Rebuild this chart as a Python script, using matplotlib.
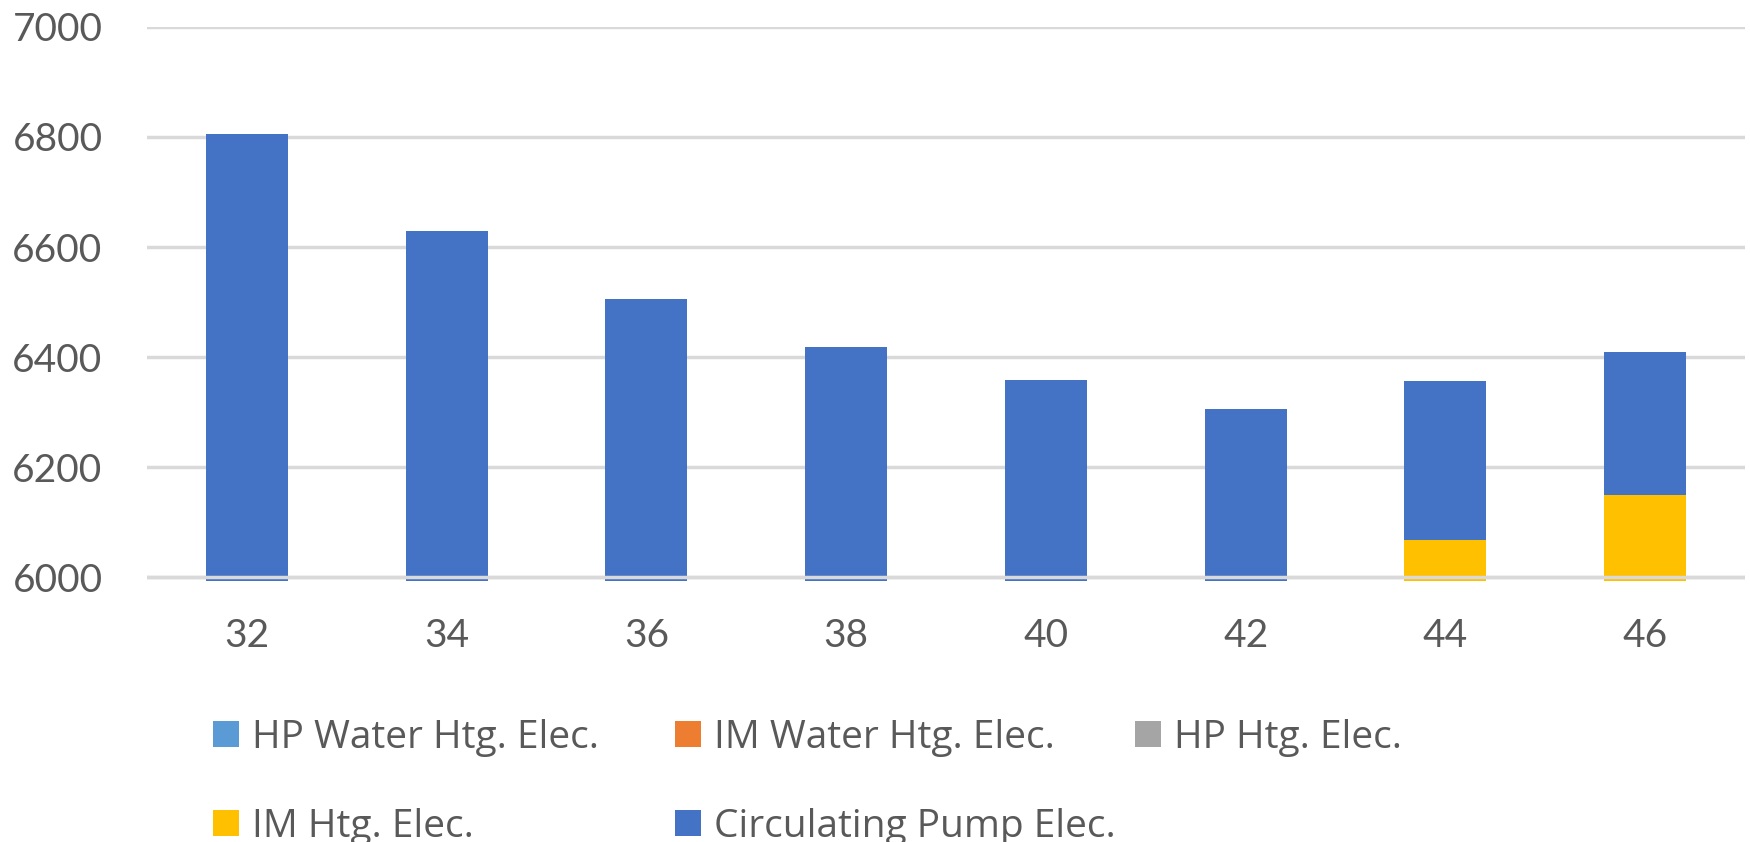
import matplotlib
matplotlib.use("Agg")
import matplotlib.pyplot as plt
import numpy as np

plt.rcParams['font.family'] = ['Lato', 'DejaVu Sans']

# temperatures along the x axis
temps = ["32", "34", "36", "38", "40", "42", "44", "46"]

# stacked electricity components
hp_water = [0, 0, 0, 0, 0, 0, 0, 0]
im_water = [0, 0, 0, 0, 0, 0, 0, 0]
hp_htg = [0, 0, 0, 0, 0, 0, 0, 0]
im_htg = [0, 0, 0, 0, 0, 0, 6068, 6150]
totals = [6805, 6629, 6505, 6418, 6359, 6306, 6357, 6410]
pump = [t - i for t, i in zip(totals, im_htg)]

series = [
    ("HP Water Htg. Elec.", hp_water, "#5B9BD5"),
    ("IM Water Htg. Elec.", im_water, "#ED7D31"),
    ("HP Htg. Elec.", hp_htg, "#A5A5A5"),
    ("IM Htg. Elec.", im_htg, "#FFC000"),
    ("Circulating Pump Elec.", pump, "#4472C4"),
]

txt = "#595959"
fig = plt.figure(figsize=(17.5, 8.42), dpi=100)
ax = fig.add_axes([147/1750, 0.310, 1598/1750, 0.658])

x = np.arange(len(temps))
bottom = np.zeros(len(temps))
handles = {}
for name, vals, col in series:
    b = ax.bar(x, vals, 0.41, bottom=bottom, color=col, label=name, zorder=2)
    handles[name] = b
    bottom += np.array(vals)

ax.set_ylim(5993, 7000)
ax.set_xlim(-0.5, len(temps) - 0.5)
ax.set_yticks(range(6000, 7001, 200))
ax.set_xticks(x)
ax.set_xticklabels(temps)
ax.yaxis.grid(True, color="#D9D9D9", lw=2.5, zorder=0)
ax.axhline(6000, color="#D9D9D9", lw=2.5, zorder=3)
ax.set_axisbelow(True)
for s in ax.spines.values():
    s.set_visible(False)
ax.tick_params(axis="both", length=0, labelsize=28, colors=txt)
ax.tick_params(axis="y", pad=32)
ax.tick_params(axis="x", pad=26.5)

# one legend per column so each column starts where it should
columns = [
    (213, ["HP Water Htg. Elec.", "IM Htg. Elec."]),
    (675, ["IM Water Htg. Elec.", "Circulating Pump Elec."]),
    (1135, ["HP Htg. Elec."]),
]
for xpos, names in columns:
    leg = fig.legend([handles[n] for n in names], names, ncol=1,
                     loc="upper left", bbox_to_anchor=(xpos/1750, 1 - 719/842),
                     frameon=False, labelcolor=txt,
                     prop={"family": ["Open Sans", "DejaVu Sans"], "size": 28},
                     handlelength=0.67, handleheight=0.64, handletextpad=0.33,
                     labelspacing=1.31, borderpad=0, borderaxespad=0)

fig.savefig("out.png", dpi=100)
